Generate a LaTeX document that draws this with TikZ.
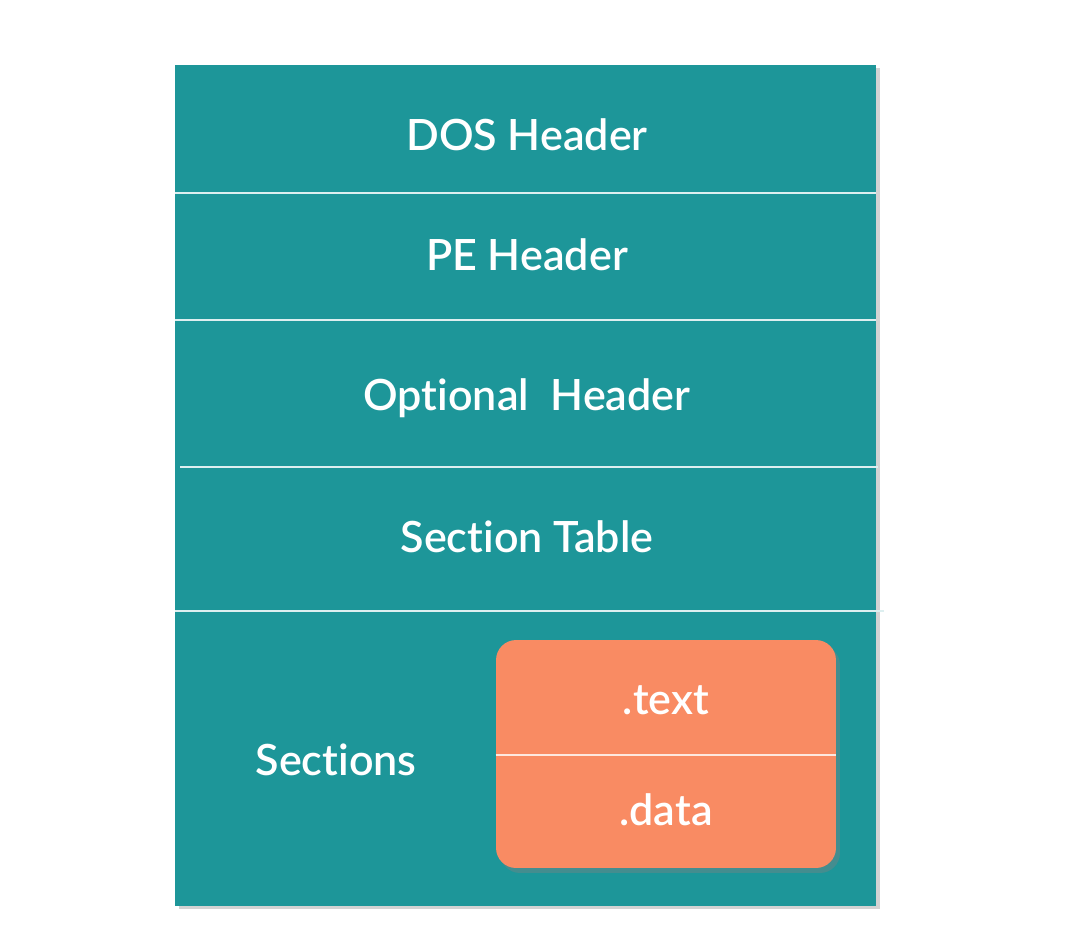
\documentclass[tikz,border=0pt]{standalone}
\usepackage{fontspec}
\setmainfont{Lato}[BoldFont={Lato Semibold},Ligatures={NoCommon,NoContextual}]
\usetikzlibrary{shadows}
\definecolor{peteal}{RGB}{29,150,153}
\definecolor{secorange}{RGB}{249,139,99}
\tikzset{
    pebox/.style={fill=peteal,minimum width=14.02cm,minimum height=16.82cm,inner sep=0pt,
        drop shadow={shadow xshift=0.08cm,shadow yshift=-0.06cm,opacity=0.35}},
    secbox/.style={fill=secorange,rounded corners=0.4cm,minimum width=6.8cm,minimum height=4.56cm,inner sep=0pt,
        drop shadow={shadow xshift=0.08cm,shadow yshift=-0.1cm,opacity=0.4}},
    rowline/.style={draw=white!85!peteal,line width=0.6pt},
    lbl/.style={text=white,font=\bfseries\fontsize{24.5}{29}\selectfont}
}
\begin{document}
\begin{tikzpicture}[x=0.02cm,y=-0.02cm]
    \useasboundingbox (0,0) rectangle (1088,941);
    \node(pe)[pebox]at(525.5,485.5){};
    % header rows
    \coordinate(l1)at(175,193); \coordinate(r1)at(876,193);
    \coordinate(l2)at(175,320); \coordinate(r2)at(876,320);
    \coordinate(l3)at(180,467); \coordinate(r3)at(878,467);
    \coordinate(l4)at(175,611); \coordinate(r4)at(884,611);
    \draw[rowline](l1)--(r1);
    \draw[rowline](l2)--(r2);
    \draw[rowline](l3)--(r3);
    \draw[rowline](l4)--(r4);
    \node(dos)[lbl]at(527,135){DOS Header};
    \node(peh)[lbl]at(527,255){PE Header};
    \node(opt)[lbl]at(527,398){Optional\ \ Header};
    \node(tab)[lbl]at(527,537){Section Table};
    \node(secs)[lbl]at(336,760){Sections};
    % sections
    \node(sec)[secbox]at(666,754){};
    \draw[rowline,draw=white!80!secorange](sec.west|-0,755)--(sec.east|-0,755);
    \node(text)[lbl]at(666,700){.text};
    \node(data)[lbl]at(666,810){.data};
\end{tikzpicture}
\end{document}
